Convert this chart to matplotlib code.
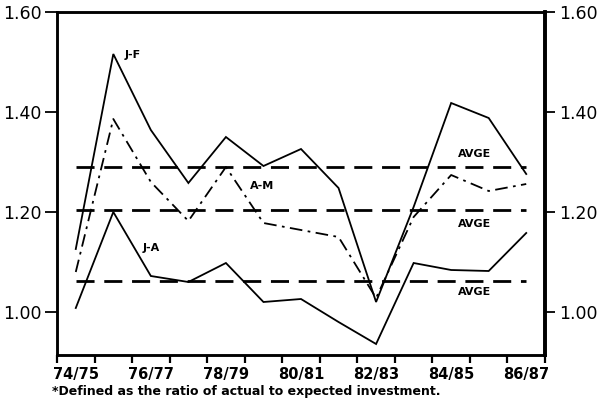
import matplotlib
matplotlib.use("Agg")
import matplotlib.pyplot as plt
import numpy as np

years = ["74/75", "75/76", "76/77", "77/78", "78/79", "79/80", "80/81",
         "81/82", "82/83", "83/84", "84/85", "85/86", "86/87"]
jf = [1.126, 1.516, 1.364, 1.258, 1.350, 1.292, 1.326, 1.248, 1.020, 1.210, 1.418, 1.388, 1.276]
am = [1.080, 1.386, 1.260, 1.182, 1.290, 1.178, 1.164, 1.150, 1.028, 1.190, 1.274, 1.242, 1.256]
ja = [1.008, 1.200, 1.072, 1.060, 1.098, 1.020, 1.026, 0.980, 0.936, 1.098, 1.084, 1.082, 1.158]
avg_jf = 1.290
avg_am = 1.205
avg_ja = 1.063
yticks = [1.00, 1.20, 1.40, 1.60]
ytick_labels = ["1.00", "1.20", "1.40", "1.60"]
xlabel_years = ["74/75", "76/77", "78/79", "80/81", "82/83", "84/85", "86/87"]
footnote = "*Defined as the ratio of actual to expected investment."

fig = plt.figure(figsize=(6.09, 4.03), dpi=100)
ax = fig.add_axes([57/609, 1-355/403, (545-57)/609, (355-12)/403])
x = np.arange(len(years))

ax.plot(x, jf, color="black", lw=1.3, solid_joinstyle="miter")
ax.plot(x, am, color="black", lw=1.3, linestyle=(0, (7, 3, 1.5, 3)))
ax.plot(x, ja, color="black", lw=1.3, solid_joinstyle="miter")
for a in (avg_jf, avg_am, avg_ja):
    ax.plot([x[0], x[-1]], [a, a], color="black", lw=2.0, linestyle=(0, (6.5, 3.5)))

ax.set_xlim(-0.5, len(years) - 0.5)
ax.set_ylim(0.914, 1.60)

# ticks at interval edges, labels centered on every other year
ax.set_xticks(np.arange(-0.5, len(years), 1.0))
ax.set_xticklabels([])
ax.set_xticks([years.index(y) for y in xlabel_years], minor=True)
ax.set_xticklabels(xlabel_years, minor=True, fontsize=10.5, fontweight="bold")
ax.tick_params(axis="x", which="major", direction="out", length=6, width=1.6)
ax.tick_params(axis="x", which="minor", length=0, pad=9)

ax.set_yticks(yticks)
ax.set_yticklabels(ytick_labels, fontsize=12.5)
ax.tick_params(axis="y", direction="out", length=9, width=1.3, pad=2)

ax2 = ax.twinx()
ax2.set_ylim(ax.get_ylim())
ax2.set_yticks(yticks)
ax2.set_yticklabels(ytick_labels, fontsize=12.5)
ax2.tick_params(axis="y", direction="out", length=7, width=1.3, pad=3)

for a_ in (ax, ax2):
    for side in ("left", "bottom", "top"):
        a_.spines[side].set_linewidth(1.8)
    a_.spines["right"].set_linewidth(2.6)

ax.text(1.29, 1.508, "J-F", fontsize=8, fontweight="bold")
ax.text(4.65, 1.246, "A-M", fontsize=8, fontweight="bold")
ax.text(1.77, 1.122, "J-A", fontsize=8, fontweight="bold")
ax.text(10.62, 1.31, "AVGE", fontsize=8, fontweight="bold", ha="center")
ax.text(10.62, 1.176, "AVGE", fontsize=8, fontweight="bold", ha="center", va="center")
ax.text(10.62, 1.040, "AVGE", fontsize=8, fontweight="bold", ha="center", va="center")

fig.text(52/609, 1-391/403, footnote, fontsize=9, fontweight="bold", va="center")

fig.savefig("out.png", dpi=100)
